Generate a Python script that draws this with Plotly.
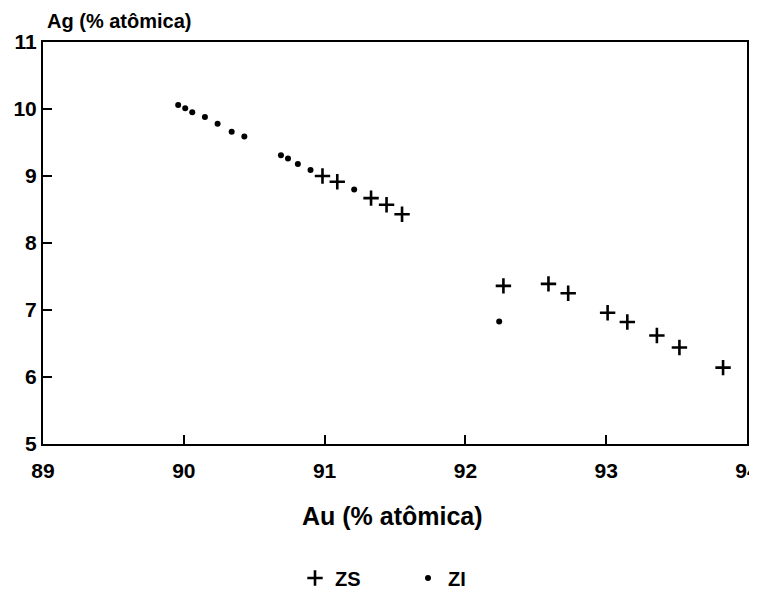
import plotly.graph_objects as go

# ZS (+) series
zs_au = [90.985, 91.09, 91.33, 91.44, 91.55, 92.27, 92.59, 92.73, 93.01, 93.15, 93.36, 93.52, 93.83]
zs_ag = [9.00, 8.915, 8.67, 8.57, 8.43, 7.36, 7.39, 7.25, 6.96, 6.82, 6.62, 6.44, 6.14]

# ZI (dot) series
zi_au = [89.96, 90.01, 90.06, 90.15, 90.24, 90.34, 90.43, 90.69, 90.74, 90.81, 90.90, 91.21, 92.24]
zi_ag = [10.06, 10.01, 9.95, 9.88, 9.78, 9.66, 9.59, 9.31, 9.26, 9.18, 9.09, 8.80, 6.83]

x_ticks = [89, 90, 91, 92, 93, 94]
y_ticks = [5, 6, 7, 8, 9, 10, 11]

FONT = "Liberation Sans, Arial, sans-serif"

# screen-space plot box (page body adds an 8px offset)
L, R, T, B = 43, 747, 42, 444
OFF = 8
W, H = 757 - OFF, 591 - OFF
PW, PH = R - L, B - T


def px(x):
    return (x - L) / PW


def py(y):
    return (B - y) / PH


fig = go.Figure()
fig.add_trace(go.Scatter(
    x=zs_au, y=zs_ag, mode="markers", name="ZS",
    marker=dict(symbol="cross-thin-open", size=11, color="black",
                line=dict(color="black", width=2.6)),
))
fig.add_trace(go.Scatter(
    x=zi_au, y=zi_ag, mode="markers", name="ZI",
    marker=dict(symbol="circle", size=6, color="black"),
))

fig.update_layout(
    width=W, height=H,
    margin=dict(l=L - OFF, r=(OFF + W) - R, t=T - OFF, b=(OFF + H) - B, autoexpand=False),
    paper_bgcolor="white", plot_bgcolor="white",
    font=dict(family=FONT, color="black"),
    showlegend=True,
    legend=dict(orientation="h", x=px(295), xanchor="left", y=py(578), yanchor="middle",
                font=dict(size=20, family=FONT, weight="bold"),
                entrywidth=68, entrywidthmode="pixels", tracegroupgap=0),
)
fig.update_xaxes(
    range=[89, 94], tickvals=x_ticks, ticktext=[str(v) for v in x_ticks],
    showgrid=False, zeroline=False, automargin=False,
    showline=True, linecolor="black", linewidth=2, mirror=True,
    ticks="inside", ticklen=9, tickwidth=1.5, tickcolor="black",
    ticklabelstandoff=7, ticklabeloverflow="allow",
    tickfont=dict(size=21, family=FONT, weight="bold"),
)
fig.update_yaxes(
    range=[5, 11], tickvals=y_ticks, ticktext=[str(v) for v in y_ticks],
    showgrid=False, zeroline=False, automargin=False,
    showline=True, linecolor="black", linewidth=2, mirror=True,
    ticks="inside", ticklen=9, tickwidth=1.5, tickcolor="black",
    ticklabelstandoff=0, ticklabeloverflow="allow",
    tickfont=dict(size=21, family=FONT, weight="bold"),
)
fig.add_annotation(text="Au (% atômica)", xref="paper", yref="paper",
                   x=px(392), y=py(516), xanchor="center", yanchor="middle",
                   showarrow=False, font=dict(size=25, family=FONT, weight="bold"))
fig.add_annotation(text="Ag (% atômica)", xref="paper", yref="paper",
                   x=px(45), y=py(21), xanchor="left", yanchor="middle",
                   showarrow=False, font=dict(size=20, family=FONT, weight="bold"))

fig.write_html("out.html")
